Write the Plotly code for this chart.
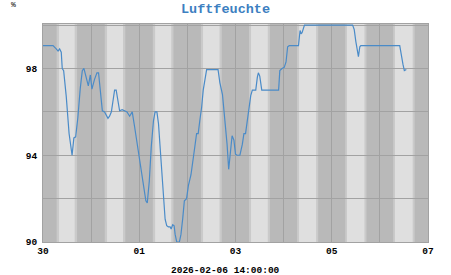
import plotly.graph_objects as go
import pandas as pd

# ---- data ----
start = pd.Timestamp("2026-01-30 00:00")
hours = [0, 5, 6.6, 7.5, 8.3, 9.1, 9.6, 10.3, 11.6, 13.0, 14.5, 15.4, 16.3, 17.4, 18.6, 19.6,
         20.4, 21.6, 22.6, 23.6, 24.4, 25.7, 26.9, 27.7, 28.7, 29.6, 30.7, 31.6, 32.4, 33.2,
         34.1, 34.9, 35.7, 36.5, 37.4, 38.2, 39.5, 40.7, 41.9, 43.2, 44.5, 45.7, 46.8, 48.0,
         49.3, 50.6, 51.3, 52.0, 53.0, 54.0, 55.1, 55.9, 56.8, 57.6, 58.4, 59.2, 60.0, 60.9,
         61.7, 62.5, 63.4, 63.9, 64.7, 65.4, 65.9, 66.7, 68.0, 68.8, 69.7, 70.5, 71.6, 72.5,
         73.8, 74.9, 75.8, 76.6, 77.4, 78.2, 79.1, 79.9, 80.7, 81.6, 87.3, 88.2, 89.5, 90.6,
         91.8, 92.6, 93.5, 94.3, 95.2, 96.0, 96.8, 98.2, 99.4, 100.2, 101.0, 101.9, 102.7,
         103.6, 104.4, 106.1, 106.9, 107.4, 108.1, 109.1, 117.5, 118.1, 119.2, 120.3, 121.2,
         122.0, 122.8, 127.4, 128.2, 128.7, 129.2, 130.4, 154.4, 155.2, 156.0, 156.8, 157.3,
         158.0, 158.5, 177.9, 178.5, 179.5, 180.2, 181.2]
humidity = [99.05, 99.05, 98.9, 98.8, 98.9, 98.75, 98.0, 97.9, 96.7, 95.0, 94.0, 94.8, 94.85,
            95.75, 97.1, 97.9, 98.0, 97.6, 97.2, 97.7, 97.05, 97.5, 97.8, 97.8, 97.0, 96.05,
            96.0, 95.8, 95.7, 95.8, 96.0, 96.5, 97.0, 97.0, 96.5, 96.05, 96.1, 96.05, 96.0,
            95.8, 96.0, 95.3, 94.6, 94.05, 93.2, 92.35, 91.9, 91.8, 92.8, 94.4, 95.6, 96.0,
            96.0, 95.45, 94.4, 93.3, 92.05, 91.05, 90.75, 90.7, 90.7, 90.6, 90.8, 90.75, 90.35,
            90.0, 90.0, 90.35, 91.1, 91.9, 92.0, 92.6, 93.1, 93.75, 94.45, 95.0, 95.0, 95.6,
            96.2, 97.0, 97.4, 97.95, 97.95, 97.35, 96.8, 95.75, 94.5, 93.35, 94.05, 94.9, 94.7,
            94.05, 94.0, 94.0, 94.5, 95.0, 95.0, 95.6, 96.2, 96.75, 97.0, 97.0, 97.6, 97.8,
            97.65, 97.0, 97.0, 97.9, 98.0, 98.05, 98.3, 99.0, 99.05, 99.05, 99.75, 99.6, 99.65,
            100.0, 100.0, 99.8, 99.25, 98.75, 98.55, 99.0, 99.05, 99.05, 98.65, 98.2, 97.9,
            97.95]

days = ["2026-01-30", "2026-01-31", "2026-02-01", "2026-02-02", "2026-02-03",
        "2026-02-04", "2026-02-05", "2026-02-06"]
dawn = [6.8, 6.8, 6.75, 6.75, 6.7, 6.7, 6.7, 6.65]
sunrise = [8.0, 7.95, 7.9, 7.8, 7.75, 7.7, 7.6, 7.55]
sunset = [15.8, 15.9, 15.95, 16.05, 16.1, 16.2, 16.3, 16.35]
dusk = [17.0, 17.05, 17.1, 17.15, 17.2, 17.25, 17.3, 17.35]

title_text = "Luftfeuchte"
unit_text = "%"
stamp_text = "2026-02-06 14:00:00"

times = [start + pd.Timedelta(hours=h) for h in hours]

DARK = "#b9b9b9"
TWI = "#cacaca"
LIGHT = "#dfdfdf"
GRID = "#a2a2a2"
FONT = "Liberation Mono"

fig = go.Figure()
fig.add_trace(go.Scatter(x=times, y=humidity, mode="lines",
                         line=dict(color="#4a8bc8", width=1.2), hoverinfo="skip"))

shapes = []
for d, a, r, s, k in zip(days, dawn, sunrise, sunset, dusk):
    base = pd.Timestamp(d)
    shapes.append(dict(type="rect", xref="x", yref="paper", layer="below",
                       x0=base + pd.Timedelta(hours=a), x1=base + pd.Timedelta(hours=k),
                       y0=0, y1=1, fillcolor=TWI, line=dict(width=0)))
    shapes.append(dict(type="rect", xref="x", yref="paper", layer="below",
                       x0=base + pd.Timedelta(hours=r), x1=base + pd.Timedelta(hours=s),
                       y0=0, y1=1, fillcolor=LIGHT, line=dict(width=0)))

fig.update_layout(
    width=451, height=275,
    margin=dict(l=43, r=23, t=24, b=33),
    paper_bgcolor="white", plot_bgcolor=DARK,
    showlegend=False,
    shapes=shapes,
    title=dict(text=title_text, x=0.5, xref="container", xanchor="center",
               y=1 - 8 / 275, yref="container", yanchor="middle",
               font=dict(family=FONT, size=13.5, color="#3d7fc1", weight="bold")),
    xaxis=dict(type="date", range=["2026-01-30", "2026-02-07"],
               tick0="2026-01-30", dtick=2 * 86400000, tickformat="%d",
               showgrid=True, gridcolor=GRID, gridwidth=1,
               minor=dict(dtick=86400000, showgrid=True, gridcolor=GRID, gridwidth=1),
               ticks="", showline=True, linecolor=GRID, linewidth=1, mirror=True,
               zeroline=False,
               tickfont=dict(family=FONT, size=9.5, color="black", weight="bold")),
    yaxis=dict(range=[90, 100.05], tick0=90, dtick=4,
               showgrid=True, gridcolor=GRID, gridwidth=1,
               minor=dict(dtick=2, showgrid=True, gridcolor=GRID, gridwidth=1),
               ticks="", showline=True, linecolor=GRID, linewidth=1, mirror=True,
               zeroline=False, ticklabelstandoff=3,
               tickfont=dict(family=FONT, size=9.5, color="black", weight="bold")),
    annotations=[
        dict(text=unit_text, xref="paper", yref="paper", x=(13 - 43) / 385,
             y=(242 - 5) / 218, xanchor="center", yanchor="middle", showarrow=False,
             font=dict(family=FONT, size=8, color="black")),
        dict(text=stamp_text, xref="paper", yref="paper", x=(225.5 - 43) / 385,
             y=(242 - 270) / 218, xanchor="center", yanchor="middle", showarrow=False,
             font=dict(family=FONT, size=9.5, color="black", weight="bold")),
    ],
)

fig.write_html("out.html")
